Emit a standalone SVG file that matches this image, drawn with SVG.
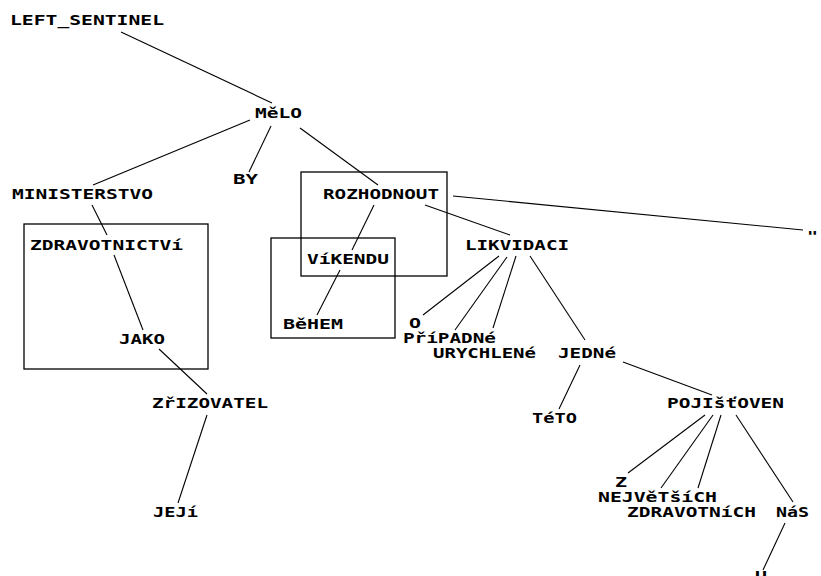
<svg xmlns="http://www.w3.org/2000/svg" width="821" height="576" viewBox="0 0 821 576">
<style>
text{font-family:"DejaVu Sans Mono","Liberation Mono",monospace;font-weight:bold;font-size:14px;fill:#000}
.e{stroke:#000;stroke-width:1.1;fill:none}
.b{stroke:#000;stroke-width:1.3;fill:none}
</style>
<rect width="821" height="576" fill="#fff"/>
<g id="boxes">
<rect class="b" x="24" y="224" width="184" height="145"/>
<rect class="b" x="301" y="172" width="146" height="104"/>
<rect class="b" x="271" y="238" width="124" height="100"/>
</g>
<g id="connectors">
<line class="e" x1="121" y1="32" x2="272" y2="103"/>
<line class="e" x1="250" y1="120" x2="93" y2="185"/>
<line class="e" x1="271" y1="126" x2="249" y2="172"/>
<line class="e" x1="300" y1="128" x2="378" y2="185"/>
<line class="e" x1="92" y1="205" x2="107" y2="235"/>
<line class="e" x1="114" y1="255" x2="143" y2="330"/>
<line class="e" x1="159" y1="349" x2="207" y2="394"/>
<line class="e" x1="207" y1="415" x2="178" y2="503"/>
<line class="e" x1="374" y1="205" x2="352" y2="250"/>
<line class="e" x1="340" y1="270" x2="317" y2="315"/>
<line class="e" x1="453" y1="196" x2="803" y2="230"/>
<line class="e" x1="425" y1="205" x2="510" y2="235"/>
<line class="e" x1="499" y1="256" x2="423" y2="315"/>
<line class="e" x1="507" y1="257" x2="455" y2="330"/>
<line class="e" x1="516" y1="256" x2="493" y2="328"/>
<line class="e" x1="530" y1="256" x2="585" y2="340"/>
<line class="e" x1="580" y1="365" x2="559" y2="409"/>
<line class="e" x1="623" y1="362" x2="712" y2="395"/>
<line class="e" x1="705" y1="415" x2="628" y2="473"/>
<line class="e" x1="713" y1="415" x2="661" y2="488"/>
<line class="e" x1="721" y1="415" x2="698" y2="488"/>
<line class="e" x1="736" y1="415" x2="793" y2="502"/>
<line class="e" x1="785" y1="523" x2="763" y2="570"/>
</g>
<g id="n_left_sentinel"><text x="10" y="25" textLength="154" lengthAdjust="spacingAndGlyphs">LEFT_SENTINEL</text></g>
<g id="n_melo"><text x="255" y="118" textLength="47" lengthAdjust="spacingAndGlyphs">MěLO</text></g>
<g id="n_ministerstvo"><text x="12" y="199" textLength="141" lengthAdjust="spacingAndGlyphs">MINISTERSTVO</text></g>
<g id="n_by"><text x="233" y="184" textLength="25" lengthAdjust="spacingAndGlyphs">BY</text></g>
<g id="n_rozhodnout"><text x="323" y="199" textLength="116" lengthAdjust="spacingAndGlyphs">ROZHODNOUT</text></g>
<g id="n_zdravotnictvi"><text x="30" y="250" textLength="153" lengthAdjust="spacingAndGlyphs">ZDRAVOTNICTVí</text></g>
<g id="n_likvidaci"><text x="465" y="250" textLength="104" lengthAdjust="spacingAndGlyphs">LIKVIDACI</text></g>
<g id="n_vikendu"><text x="307" y="264" textLength="82" lengthAdjust="spacingAndGlyphs">VíKENDU</text></g>
<g id="n_behem"><text x="283" y="329" textLength="60" lengthAdjust="spacingAndGlyphs">BěHEM</text></g>
<g id="n_jako"><text x="119" y="344" textLength="46" lengthAdjust="spacingAndGlyphs">JAKO</text></g>
<g id="n_o"><text x="409" y="328" textLength="12" lengthAdjust="spacingAndGlyphs">O</text></g>
<g id="n_pripadne"><text x="403" y="343" textLength="93" lengthAdjust="spacingAndGlyphs">PříPADNé</text></g>
<g id="n_urychlene"><text x="433" y="358" textLength="103" lengthAdjust="spacingAndGlyphs">URYCHLENé</text></g>
<g id="n_jedne"><text x="558" y="358" textLength="58" lengthAdjust="spacingAndGlyphs">JEDNé</text></g>
<g id="n_zrizovatel"><text x="152" y="408" textLength="116" lengthAdjust="spacingAndGlyphs">ZřIZOVATEL</text></g>
<g id="n_teto"><text x="532" y="423" textLength="45" lengthAdjust="spacingAndGlyphs">TéTO</text></g>
<g id="n_pojistoven"><text x="667" y="408" textLength="117" lengthAdjust="spacingAndGlyphs">POJIšťOVEN</text></g>
<g id="n_jeji"><text x="153" y="517" textLength="45" lengthAdjust="spacingAndGlyphs">JEJí</text></g>
<g id="n_z"><text x="615" y="487" textLength="12" lengthAdjust="spacingAndGlyphs">Z</text></g>
<g id="n_nejvetsich"><text x="598" y="502" textLength="119" lengthAdjust="spacingAndGlyphs">NEJVěTšíCH</text></g>
<g id="n_zdravotnich"><text x="627" y="517" textLength="129" lengthAdjust="spacingAndGlyphs">ZDRAVOTNíCH</text></g>
<g id="n_nas"><text x="776" y="517" textLength="33" lengthAdjust="spacingAndGlyphs">NáS</text></g>
<g id="n_u"><text x="755" y="581" textLength="12" lengthAdjust="spacingAndGlyphs">U</text></g>
<g id="n_quote"><text x="807" y="241" textLength="11" lengthAdjust="spacingAndGlyphs">"</text></g>
</svg>
